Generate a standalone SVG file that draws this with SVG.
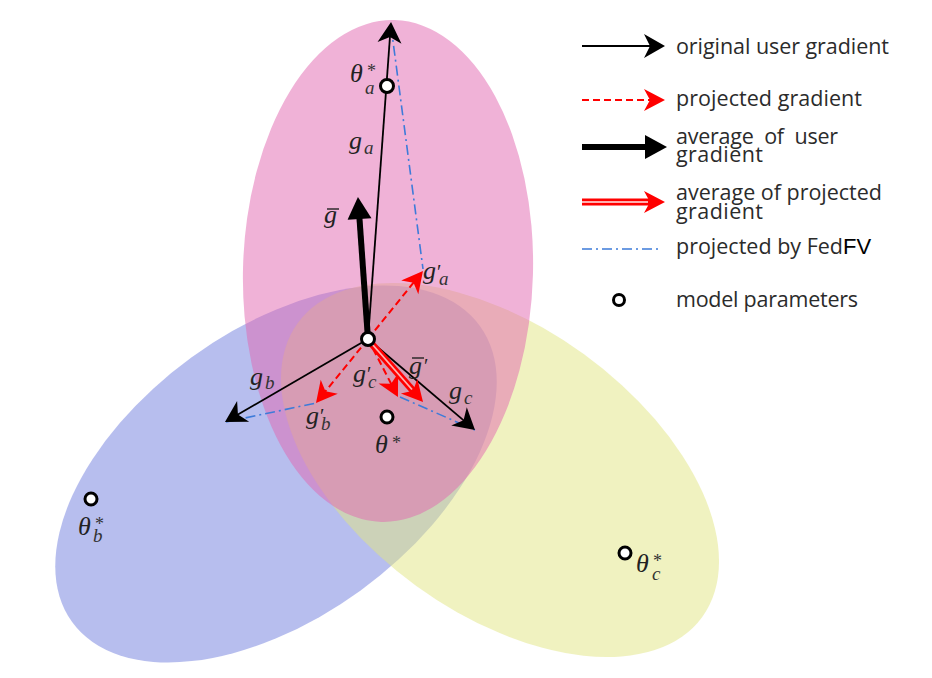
<svg xmlns="http://www.w3.org/2000/svg" width="932" height="678" viewBox="0 0 932 678">
<style>
.m{font-family:"Liberation Serif","DejaVu Serif",serif;font-style:italic;font-size:26px;fill:#222}
.sub{font-style:italic;font-size:19px;fill:#333}
.sup{font-style:normal;font-size:18px;fill:#333}
.pr{font-style:normal;font-size:20px;fill:#222}
.bar{stroke:#222;stroke-width:1.4}
.leg{font-family:"Open Sans","Noto Sans",sans-serif;font-size:21.5px;fill:#2b2b2b}
.gk{stroke:#000;stroke-width:1.8;fill:none}
.gr{stroke:#f00;stroke-width:2;stroke-dasharray:7 4;fill:none}
.gbar{stroke:#000;stroke-width:6;fill:none}
.grbar{stroke:#f00;stroke-width:7;fill:none}
.grbarin{stroke:#ffb0b0;stroke-width:1.8;fill:none}
.gb{stroke:#3d7bd9;stroke-width:1.6;stroke-dasharray:10 4 2 4;fill:none}
.pt{fill:#fff;stroke:#000;stroke-width:3}
</style>
<defs>
<marker id="hk" markerUnits="userSpaceOnUse" markerWidth="26" markerHeight="28" viewBox="-23 -14 26 28" refX="-13" refY="0" orient="auto">
<path d="M0,0 L-21,-12 L-15,0 L-21,12 Z" fill="#000"/>
</marker>
<marker id="hr" markerUnits="userSpaceOnUse" markerWidth="26" markerHeight="28" viewBox="-23 -14 26 28" refX="-13" refY="0" orient="auto">
<path d="M0,0 L-21,-11 L-15,0 L-21,11 Z" fill="#f00"/>
</marker>
<marker id="tk" markerUnits="userSpaceOnUse" markerWidth="26" markerHeight="28" viewBox="-23 -14 26 28" refX="-19" refY="0" orient="auto">
<path d="M0,0 L-22,-12 L-22,12 Z" fill="#000"/>
</marker>
</defs>

<g id="regions">
<ellipse cx="276" cy="474" rx="252" ry="144" transform="rotate(-36 276 474)" fill="#6f7ddd" fill-opacity="0.5"/>
<ellipse cx="500" cy="470" rx="250" ry="143" transform="rotate(36 500 470)" fill="#e1e581" fill-opacity="0.5"/>
<ellipse cx="388" cy="271" rx="145" ry="251" transform="rotate(1.5 388 271)" fill="#e165af" fill-opacity="0.5"/>
</g>

<g id="connectors">
<line class="gb" x1="391" y1="26" x2="423" y2="269"/>
<line class="gb" x1="226" y1="422" x2="316" y2="403"/>
<line class="gb" x1="400" y1="397" x2="475" y2="430"/>
<line class="gk" x1="368" y1="339" x2="390.1" y2="35" marker-end="url(#hk)"/>
<line class="gk" x1="368" y1="339" x2="236.2" y2="415.5" marker-end="url(#hk)"/>
<line class="gk" x1="368" y1="339" x2="465.1" y2="421.6" marker-end="url(#hk)"/>
<line class="gbar" x1="368" y1="339" x2="359.3" y2="216" marker-end="url(#tk)"/>
<line class="gr" x1="368" y1="339" x2="414.8" y2="281.1" marker-end="url(#hr)"/>
<line class="gr" x1="368" y1="339" x2="324.2" y2="392.9" marker-end="url(#hr)"/>
<line class="gr" x1="368" y1="339" x2="392" y2="385.5" marker-end="url(#hr)"/>
<line class="grbar" x1="370" y1="342" x2="414.4" y2="392.2" marker-end="url(#hr)"/>
<line class="grbarin" x1="372" y1="344" x2="412" y2="389.5"/>
</g>

<g id="node-theta-a"><circle class="pt" cx="387" cy="86" r="6.5"/></g>
<g id="node-origin"><circle class="pt" cx="368" cy="339" r="6.5"/></g>
<g id="node-theta-star"><circle class="pt" cx="387" cy="417" r="6"/></g>
<g id="node-theta-b"><circle class="pt" cx="91" cy="499" r="6"/></g>
<g id="node-theta-c"><circle class="pt" cx="625" cy="553" r="6"/></g>

<g id="labels">
<text class="m" x="350" y="82">θ<tspan class="sup" x="367" y="77">*</tspan><tspan class="sub" x="365" y="94">a</tspan></text>
<text class="m" x="349" y="149">g<tspan class="sub" x="364" y="154">a</tspan></text>
<text class="m" x="324" y="223">g</text><line class="bar" x1="327" y1="209" x2="339" y2="209"/>
<text class="m" x="423" y="279">g<tspan class="pr" x="437" y="279">′</tspan><tspan class="sub" x="439" y="285">a</tspan></text>
<text class="m" x="250" y="385">g<tspan class="sub" x="265" y="389">b</tspan></text>
<text class="m" x="306" y="424">g<tspan class="pr" x="320" y="423">′</tspan><tspan class="sub" x="321" y="430">b</tspan></text>
<text class="m" x="353" y="382">g<tspan class="pr" x="367" y="381">′</tspan><tspan class="sub" x="368" y="388">c</tspan></text>
<text class="m" x="409" y="374">g<tspan class="pr" x="424" y="373">′</tspan></text><line class="bar" x1="412" y1="358" x2="424" y2="358"/>
<text class="m" x="449" y="399">g<tspan class="sub" x="464" y="404">c</tspan></text>
<text class="m" x="375" y="453">θ<tspan class="sup" x="392" y="449">*</tspan></text>
<text class="m" x="78" y="535">θ<tspan class="sup" x="95" y="530">*</tspan><tspan class="sub" x="93" y="542">b</tspan></text>
<text class="m" x="636" y="572">θ<tspan class="sup" x="653" y="567">*</tspan><tspan class="sub" x="652" y="580">c</tspan></text>
</g>

<g id="legend">
<line class="gk" x1="582" y1="46" x2="652" y2="46" marker-end="url(#hk)"/>
<text class="leg" x="676" y="54" textLength="213">original user gradient</text>
<line class="gr" x1="582" y1="100" x2="652" y2="100" marker-end="url(#hr)"/>
<text class="leg" x="676" y="106" textLength="186">projected gradient</text>
<line class="gbar" x1="582" y1="147" x2="648" y2="147" stroke-width="8" marker-end="url(#tk)"/>
<text class="leg" x="676" y="144"><tspan x="676" y="144" textLength="162">average&#160; of&#160; user</tspan><tspan x="676" y="162" textLength="87">gradient</tspan></text>
<line class="grbar" x1="582" y1="202" x2="652" y2="202" stroke-width="9" marker-end="url(#hr)"/>
<line class="grbarin" x1="582" y1="202" x2="648" y2="202" stroke-width="2.5"/>
<text class="leg" x="676" y="200"><tspan x="676" y="200" textLength="206">average of projected</tspan><tspan x="676" y="219" textLength="87">gradient</tspan></text>
<line class="gb" x1="582" y1="249" x2="662" y2="249"/>
<text class="leg" x="676" y="254">projected by Fed<tspan fill="#000" font-family="Liberation Sans, sans-serif" font-size="22px">FV</tspan></text>
<circle class="pt" cx="619" cy="300" r="5.5"/>
<text class="leg" x="676" y="307" textLength="182">model parameters</text>
</g>
</svg>
